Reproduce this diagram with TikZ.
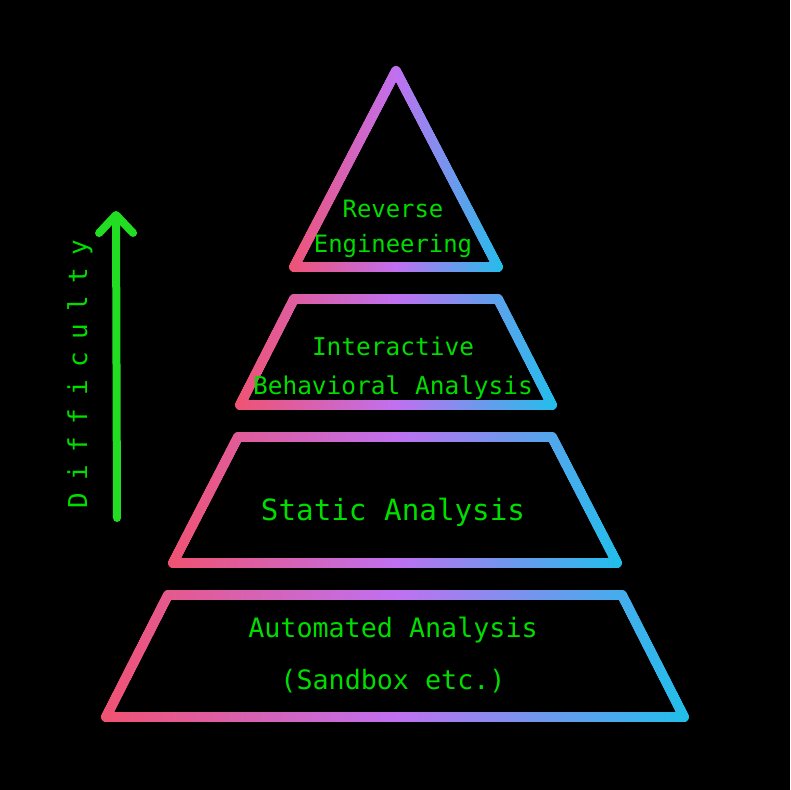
\documentclass[tikz,border=0pt]{standalone}
\usepackage{fontspec}
\usetikzlibrary{arrows.meta, fadings}

\newfontfamily\termfont{DejaVu Sans Mono}
\newfontfamily\termspaced[LetterSpace=48]{DejaVu Sans Mono}

\definecolor{rimred}{RGB}{240,82,112}
\definecolor{rimviolet}{RGB}{192,112,240}
\definecolor{rimcyan}{RGB}{30,192,234}
\definecolor{termgreen}{RGB}{0,222,0}
\definecolor{arrowgreen}{RGB}{34,222,34}

\tikzset{rimline/.style={draw=white, line width=2.6mm, line join=round}}

% outlines of the layers, used as masks for the colour ramps
\begin{tikzfadingfrompicture}[name=rimtop, x=0.25mm, y=-0.25mm]
    \path (-110,-106) rectangle (110,106);
    \draw[rimline] (0,-98) -- (102,98) -- (-102,98) -- cycle;
\end{tikzfadingfrompicture}

\begin{tikzfadingfrompicture}[name=rimtwo, x=0.25mm, y=-0.25mm]
    \path (-164,-61) rectangle (164,61);
    \draw[rimline] (-102,-53) -- (102,-53) -- (156,53) -- (-156,53) -- cycle;
\end{tikzfadingfrompicture}

\begin{tikzfadingfrompicture}[name=rimthree, x=0.25mm, y=-0.25mm]
    \path (-230,-71) rectangle (230,71);
    \draw[rimline] (-157,-63) -- (157,-63) -- (222,63) -- (-222,63) -- cycle;
\end{tikzfadingfrompicture}

\begin{tikzfadingfrompicture}[name=rimbase, x=0.25mm, y=-0.25mm]
    \path (-297,-69) rectangle (297,69);
    \draw[rimline] (-227,-61) -- (227,-61) -- (289,61) -- (-289,61) -- cycle;
\end{tikzfadingfrompicture}

\begin{document}
\begin{tikzpicture}[x=0.25mm, y=-0.25mm,
    rimshade/.style={left color=rimred, right color=rimcyan, middle color=rimviolet, fit fading=false},
    layertext/.style={text=termgreen, align=center}]

    \path[use as bounding box, fill=black] (0,0) rectangle (790,790);

    % layers
    \shade[rimshade, path fading=rimtop, fading transform={shift={(396,169)}}] (286,63) rectangle (506,275);
    \shade[rimshade, path fading=rimtwo, fading transform={shift={(396,352)}}] (232,291) rectangle (560,413);
    \shade[rimshade, path fading=rimthree, fading transform={shift={(395,500)}}] (165,429) rectangle (625,571);
    \shade[rimshade, path fading=rimbase, fading transform={shift={(395,656)}}] (98,587) rectangle (692,725);

    \node[layertext, font=\termfont\fontsize{17}{25}\selectfont] (revtext) at (393,229) {Reverse\\Engineering};
    \node[layertext, font=\termfont\fontsize{17.4}{27.7}\selectfont] (behtext) at (393,368) {Interactive\\Behavioral Analysis};
    \node[layertext, font=\termfont\fontsize{20.8}{25}\selectfont] (stattext) at (393,512) {Static Analysis};
    \node[layertext, font=\termfont\fontsize{19}{37.6}\selectfont] (autotext) at (393,655) {Automated Analysis\\(Sandbox etc.)};

    % difficulty axis
    \coordinate (arrowfoot) at (117,518);
    \coordinate (arrowtip) at (116,211);
    \draw[arrowgreen, line width=2mm, line cap=round, -{Straight Barb[round, length=4.5mm, width=8.5mm]}] (arrowfoot) -- (arrowtip);

    \node[text=termgreen, font=\termspaced\fontsize{18.5}{18.5}\selectfont, rotate=90] (difftext) at (80,374) {Difficulty};

\end{tikzpicture}
\end{document}
